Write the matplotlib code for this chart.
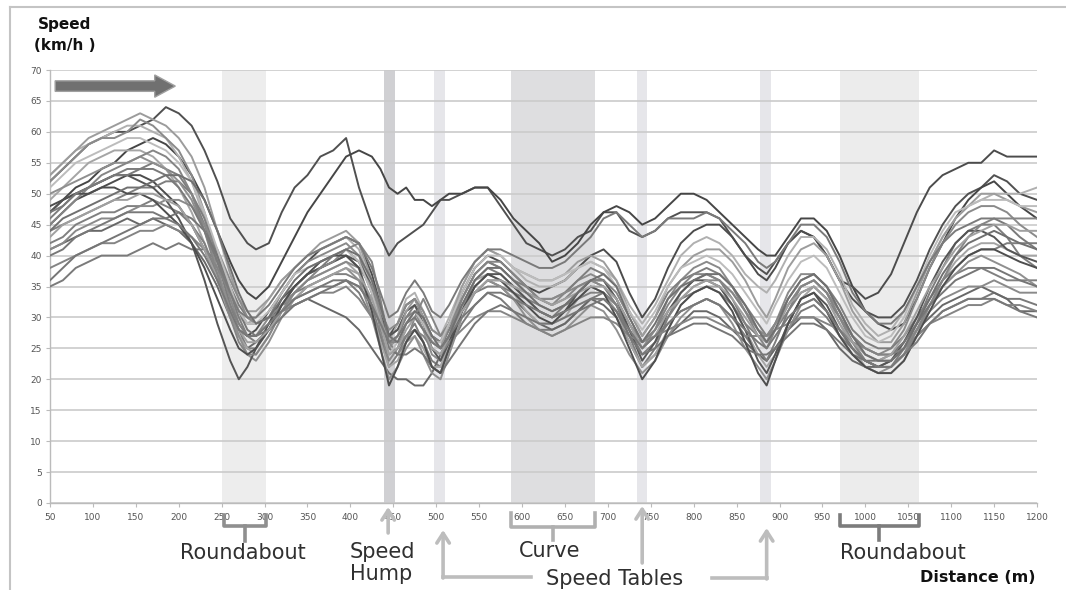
#!/usr/bin/env python3
"""Speed profiles along the test route (roundabouts, hump, tables, curve)."""

import matplotlib
matplotlib.use('Agg')

import matplotlib.pyplot as plt
import matplotlib.transforms as mtransforms
from matplotlib.lines import Line2D
from matplotlib.patches import FancyArrow

# distance along the route (m)
distance_m = [50, 65, 80, 95, 110, 125, 140, 155, 170, 185, 200, 215, 230, 245,
              260, 270, 280, 290, 305, 320, 335, 350, 365, 380, 395, 410, 425,
              435, 445, 455, 465, 475, 485, 495, 505, 515, 530, 545, 560, 575,
              590, 605, 620, 635, 650, 665, 680, 695, 710, 725, 740, 755, 770,
              785, 800, 815, 830, 845, 860, 875, 885, 895, 910, 925, 940, 955,
              970, 985, 1000, 1015, 1030, 1045, 1060, 1075, 1090, 1105, 1120,
              1135, 1150, 1165, 1180, 1200]

# speed of each run (km/h), one value per distance point
run01 = [52, 54, 56, 58, 59, 60, 60, 61, 62, 64, 63, 61, 57, 52, 46, 44, 42, 41, 42,
         47, 51, 53, 56, 57, 59, 51, 45, 43, 40, 42, 43, 44, 45, 47, 49, 49, 50, 51,
         51, 48, 45, 42, 41, 40, 41, 43, 44, 47, 47, 44, 43, 44, 46, 47, 47, 47, 46,
         43, 40, 38, 37, 39, 42, 44, 43, 40, 36, 33, 31, 30, 30, 32, 36, 41, 45, 48,
         50, 51, 53, 52, 50, 49]
run02 = [47, 49, 51, 52, 54, 55, 57, 58, 59, 58, 56, 53, 49, 44, 39, 36, 34, 33, 35,
         39, 43, 47, 50, 53, 56, 57, 56, 54, 51, 50, 51, 49, 49, 48, 49, 50, 50, 51,
         51, 49, 46, 44, 42, 39, 40, 42, 45, 47, 48, 47, 45, 46, 48, 50, 50, 49, 47,
         45, 43, 41, 40, 40, 43, 46, 46, 44, 40, 35, 31, 29, 28, 29, 33, 38, 42, 46,
         49, 51, 52, 50, 48, 46]
run03 = [45, 47, 49, 50, 51, 52, 53, 53, 52, 50, 48, 45, 41, 36, 31, 28, 27, 28, 31,
         34, 37, 39, 41, 42, 43, 42, 37, 32, 27, 29, 32, 33, 30, 27, 26, 29, 34, 38,
         40, 39, 37, 35, 34, 35, 36, 38, 40, 41, 39, 34, 30, 33, 38, 42, 44, 45, 45,
         43, 40, 37, 36, 38, 42, 44, 43, 40, 36, 35, 33, 34, 37, 42, 47, 51, 53, 54,
         55, 55, 57, 56, 56, 56]
run04 = [35, 36, 38, 39, 40, 40, 40, 41, 42, 41, 42, 41, 41, 39, 35, 32, 30, 29, 30,
         32, 33, 34, 35, 35, 36, 34, 30, 27, 24, 25, 27, 28, 26, 23, 22, 25, 29, 32,
         34, 33, 31, 29, 28, 28, 29, 31, 33, 34, 32, 28, 24, 26, 29, 31, 32, 33, 32,
         30, 27, 24, 23, 25, 28, 31, 32, 30, 27, 25, 23, 22, 22, 24, 27, 29, 31, 32,
         33, 33, 34, 33, 33, 32]
run05 = [41, 42, 43, 44, 44, 45, 46, 45, 46, 45, 44, 42, 39, 35, 30, 27, 25, 26, 28,
         31, 32, 33, 32, 31, 30, 28, 25, 23, 21, 20, 20, 19, 19, 21, 24, 27, 31, 34,
         36, 35, 33, 31, 29, 28, 29, 31, 33, 32, 30, 26, 22, 24, 27, 29, 31, 31, 30,
         28, 26, 24, 23, 25, 28, 30, 30, 28, 25, 23, 22, 22, 23, 25, 28, 30, 32, 33,
         34, 35, 34, 33, 31, 31]
run06 = [53, 55, 57, 58, 59, 60, 61, 61, 60, 59, 56, 52, 46, 39, 33, 30, 29, 30, 33,
         36, 38, 40, 41, 42, 43, 41, 35, 30, 26, 29, 33, 34, 31, 28, 27, 30, 35, 39,
         41, 40, 38, 36, 35, 35, 36, 38, 39, 38, 36, 32, 29, 32, 36, 40, 42, 43, 42,
         40, 37, 35, 34, 36, 40, 43, 43, 41, 37, 32, 29, 27, 28, 31, 35, 39, 43, 46,
         48, 49, 50, 50, 50, 51]
run07 = [52, 54, 56, 58, 59, 59, 60, 62, 61, 59, 57, 53, 47, 40, 33, 29, 27, 27, 30,
         34, 37, 39, 40, 41, 42, 40, 34, 28, 23, 25, 29, 31, 28, 24, 23, 27, 33, 37,
         39, 38, 36, 34, 33, 32, 34, 36, 37, 36, 33, 29, 25, 28, 33, 36, 38, 39, 38,
         35, 31, 28, 26, 29, 34, 37, 37, 35, 31, 27, 25, 24, 25, 28, 33, 38, 42, 45,
         47, 48, 48, 47, 45, 43]
run08 = [46, 48, 50, 51, 52, 53, 54, 54, 55, 54, 53, 50, 45, 39, 32, 28, 25, 25, 28,
         32, 35, 37, 38, 39, 40, 38, 32, 27, 22, 24, 27, 29, 26, 22, 21, 25, 31, 36,
         38, 37, 35, 33, 31, 30, 32, 34, 36, 35, 32, 27, 22, 25, 30, 34, 36, 37, 36,
         33, 29, 25, 23, 26, 31, 35, 36, 34, 30, 26, 23, 22, 22, 25, 29, 34, 38, 42,
         44, 45, 45, 43, 40, 38]
run09 = [49, 51, 53, 55, 56, 57, 57, 57, 56, 54, 51, 47, 42, 36, 30, 27, 25, 24, 27,
         31, 34, 36, 37, 38, 39, 37, 31, 26, 22, 23, 26, 27, 25, 22, 22, 26, 32, 36,
         37, 36, 34, 31, 29, 29, 30, 33, 35, 34, 31, 26, 22, 24, 28, 32, 34, 35, 35,
         32, 28, 24, 22, 24, 29, 33, 35, 33, 29, 25, 22, 21, 21, 23, 27, 32, 36, 39,
         41, 42, 42, 41, 40, 40]
run10 = [44, 45, 46, 47, 48, 49, 50, 51, 51, 52, 52, 50, 46, 40, 34, 30, 27, 26, 28,
         32, 35, 37, 38, 40, 41, 39, 34, 29, 25, 27, 30, 32, 30, 26, 25, 28, 33, 37,
         39, 38, 36, 35, 33, 33, 34, 36, 38, 37, 35, 31, 27, 30, 34, 36, 37, 38, 37,
         35, 32, 29, 27, 29, 33, 36, 37, 35, 32, 28, 26, 25, 25, 27, 30, 33, 36, 38,
         40, 41, 41, 42, 42, 42]
run11 = [42, 43, 45, 46, 47, 47, 48, 48, 49, 48, 47, 45, 42, 37, 32, 29, 27, 27, 29,
         32, 34, 35, 36, 37, 37, 36, 33, 30, 27, 28, 30, 31, 29, 27, 26, 28, 31, 34,
         35, 35, 34, 33, 32, 31, 32, 33, 34, 34, 32, 28, 25, 27, 30, 33, 34, 35, 34,
         32, 29, 27, 26, 28, 31, 34, 35, 33, 30, 27, 25, 24, 24, 26, 29, 32, 35, 37,
         38, 38, 37, 36, 36, 36]
run12 = [50, 51, 52, 53, 54, 55, 55, 56, 55, 54, 52, 49, 44, 38, 31, 27, 24, 23, 26,
         30, 33, 35, 36, 37, 38, 36, 30, 25, 20, 22, 25, 27, 24, 21, 20, 24, 30, 34,
         36, 35, 33, 30, 28, 27, 28, 30, 32, 31, 28, 24, 21, 23, 27, 30, 32, 33, 32,
         29, 25, 22, 20, 23, 28, 32, 33, 31, 27, 24, 22, 21, 22, 24, 28, 32, 35, 37,
         39, 40, 39, 38, 37, 35]
run13 = [47, 49, 50, 51, 52, 53, 53, 52, 51, 49, 46, 42, 36, 29, 23, 20, 22, 25, 29,
         33, 35, 37, 38, 39, 40, 39, 35, 31, 27, 28, 31, 32, 29, 25, 23, 26, 31, 35,
         37, 37, 35, 33, 31, 30, 31, 34, 36, 36, 33, 28, 23, 26, 31, 34, 36, 36, 35,
         32, 28, 23, 21, 24, 29, 33, 34, 32, 28, 25, 23, 22, 23, 26, 30, 35, 39, 42,
         44, 44, 43, 41, 40, 39]
run14 = [53, 55, 57, 59, 60, 61, 62, 63, 62, 61, 59, 56, 51, 44, 37, 33, 31, 31, 33,
         36, 38, 40, 42, 43, 44, 42, 36, 30, 25, 27, 31, 33, 30, 26, 25, 29, 35, 39,
         41, 40, 38, 37, 36, 36, 37, 39, 40, 39, 36, 31, 27, 30, 35, 38, 40, 41, 41,
         39, 36, 32, 30, 33, 38, 41, 42, 40, 36, 31, 28, 26, 26, 29, 34, 39, 43, 46,
         48, 50, 50, 49, 48, 47]
run15 = [41, 42, 44, 45, 46, 46, 47, 48, 48, 49, 49, 48, 45, 41, 36, 33, 30, 29, 30,
         32, 34, 36, 37, 38, 39, 38, 35, 31, 28, 29, 32, 33, 31, 28, 27, 29, 32, 34,
         36, 36, 35, 34, 33, 33, 34, 35, 36, 35, 33, 29, 26, 28, 31, 33, 35, 36, 36,
         34, 31, 28, 27, 29, 32, 35, 36, 34, 31, 27, 24, 23, 23, 25, 28, 31, 33, 34,
         35, 35, 36, 35, 34, 34]
run16 = [38, 39, 40, 41, 42, 42, 43, 44, 44, 45, 44, 43, 41, 38, 34, 31, 29, 29, 30,
         31, 32, 33, 34, 34, 35, 33, 30, 28, 26, 26, 27, 28, 27, 25, 24, 26, 28, 30,
         31, 31, 30, 29, 28, 27, 28, 29, 30, 30, 29, 27, 26, 27, 28, 29, 30, 30, 29,
         28, 27, 27, 27, 28, 29, 30, 30, 29, 28, 26, 25, 24, 24, 25, 27, 29, 30, 31,
         32, 32, 33, 32, 32, 31]
run17 = [45, 47, 49, 51, 53, 54, 55, 56, 57, 56, 54, 50, 44, 37, 30, 26, 24, 24, 27,
         31, 34, 36, 38, 39, 41, 42, 39, 33, 26, 24, 26, 30, 33, 30, 27, 29, 33, 37,
         39, 39, 37, 35, 33, 32, 33, 35, 36, 36, 34, 30, 26, 28, 32, 35, 37, 37, 36,
         34, 31, 27, 25, 28, 32, 35, 36, 34, 30, 26, 23, 22, 22, 24, 28, 32, 36, 40,
         43, 45, 46, 46, 46, 46]
run18 = [36, 38, 40, 41, 42, 43, 44, 45, 46, 46, 47, 46, 44, 40, 35, 31, 28, 27, 28,
         30, 32, 33, 34, 35, 36, 35, 32, 29, 25, 24, 24, 25, 24, 22, 21, 23, 26, 29,
         31, 32, 31, 30, 29, 29, 30, 31, 32, 33, 31, 27, 24, 25, 27, 28, 29, 29, 28,
         27, 25, 24, 24, 25, 27, 29, 29, 28, 26, 24, 23, 23, 24, 26, 29, 32, 34, 36,
         37, 38, 38, 37, 36, 35]
run19 = [51, 53, 55, 56, 57, 58, 59, 59, 58, 57, 55, 52, 47, 41, 35, 31, 29, 29, 31,
         34, 37, 38, 39, 40, 41, 39, 34, 29, 24, 26, 29, 31, 29, 26, 26, 29, 34, 38,
         40, 40, 38, 37, 36, 36, 37, 38, 39, 38, 35, 31, 28, 31, 35, 38, 39, 40, 39,
         37, 34, 31, 29, 32, 36, 39, 40, 38, 34, 30, 27, 26, 27, 30, 35, 40, 44, 47,
         48, 49, 49, 49, 48, 48]
run20 = [48, 49, 50, 50, 51, 51, 50, 50, 49, 47, 45, 42, 38, 33, 28, 25, 24, 25, 28,
         32, 35, 37, 39, 40, 40, 38, 31, 25, 19, 22, 26, 28, 26, 22, 21, 25, 31, 35,
         37, 36, 34, 32, 30, 29, 31, 33, 35, 34, 30, 25, 20, 23, 28, 32, 34, 35, 34,
         31, 26, 21, 19, 23, 29, 33, 34, 31, 27, 24, 22, 21, 21, 23, 27, 31, 35, 38,
         40, 41, 41, 40, 39, 38]
run21 = [47, 48, 50, 51, 52, 53, 53, 54, 54, 53, 51, 48, 44, 39, 34, 31, 30, 30, 32,
         35, 38, 40, 41, 42, 43, 42, 38, 34, 30, 31, 34, 36, 34, 31, 30, 32, 36, 39,
         41, 41, 40, 39, 38, 38, 39, 41, 43, 46, 47, 45, 43, 44, 46, 46, 46, 47, 46,
         44, 42, 39, 38, 39, 42, 45, 45, 43, 39, 34, 31, 29, 29, 31, 35, 39, 42, 44,
         45, 46, 46, 45, 43, 41]
run22 = [43, 45, 46, 47, 48, 49, 49, 50, 50, 49, 48, 45, 41, 36, 31, 28, 26, 26, 28,
         31, 33, 35, 36, 37, 38, 37, 33, 29, 24, 25, 28, 30, 28, 25, 24, 27, 31, 34,
         36, 36, 35, 34, 33, 32, 33, 34, 35, 35, 33, 29, 25, 27, 31, 33, 35, 36, 35,
         33, 30, 27, 26, 28, 32, 34, 35, 33, 29, 26, 24, 23, 24, 27, 31, 35, 38, 41,
         43, 44, 45, 45, 44, 44]
run23 = [44, 46, 47, 48, 49, 50, 51, 51, 52, 53, 53, 52, 49, 44, 38, 34, 31, 29, 30,
         33, 36, 38, 39, 40, 41, 40, 36, 32, 27, 26, 29, 31, 30, 27, 25, 27, 32, 36,
         38, 38, 36, 34, 32, 31, 32, 34, 36, 37, 35, 30, 26, 29, 33, 35, 36, 37, 37,
         35, 32, 28, 26, 28, 33, 36, 37, 35, 31, 27, 24, 23, 23, 25, 29, 33, 37, 40,
         42, 43, 44, 43, 42, 41]
run24 = [40, 41, 43, 44, 45, 46, 47, 47, 47, 46, 45, 43, 40, 36, 31, 28, 27, 27, 29,
         31, 33, 34, 35, 36, 36, 35, 32, 29, 26, 27, 29, 30, 28, 26, 25, 27, 30, 32,
         34, 34, 33, 32, 31, 30, 31, 32, 33, 33, 31, 28, 25, 27, 29, 31, 32, 33, 32,
         30, 28, 26, 25, 27, 30, 32, 33, 31, 28, 25, 23, 22, 22, 24, 26, 29, 31, 32,
         33, 33, 33, 32, 31, 30]

runs = [run01, run02, run03, run04, run05, run06, run07, run08, run09, run10,
        run11, run12, run13, run14, run15, run16, run17, run18, run19, run20,
        run21, run22, run23, run24]

# grey level for each run
run_greys = ['#505050', '#464646', '#4c4c4c', '#7a7a7a', '#686868', '#b0b0b0',
             '#8a8a8a', '#7d7d7d', '#a5a5a5', '#7e7e7e', '#808080', '#8f8f8f',
             '#555555', '#9c9c9c', '#8a8a8a', '#848484', '#858585', '#767676',
             '#bcbcbc', '#4e4e4e', '#7a7a7a', '#a0a0a0', '#707070', '#787878']

# road features (start, end in m)
roundabout_1 = (250, 302)
speed_hump = (439, 452)
speed_tables = [(497, 510), (734, 746), (877, 890)]
curve = (587, 685)
roundabout_2 = (971, 1063)

x_ticks = list(range(50, 1201, 50))
y_ticks = list(range(0, 71, 5))

W, H = 1066, 590


def fy(py):
    # pixel row -> figure fraction
    return 1 - py / H


def main():
    fig = plt.figure(figsize=(W / 100, H / 100), dpi=100)
    ax = fig.add_axes([50 / W, 1 - 503 / H, 987 / W, 433 / H])

    # shaded zones
    ax.axvspan(*roundabout_1, color='#ededed', zorder=0.2, lw=0)
    ax.axvspan(*speed_hump, color='#d0d0d3', zorder=0.2, lw=0)
    for t in speed_tables:
        ax.axvspan(*t, color='#e6e6ea', zorder=0.2, lw=0)
    ax.axvspan(*curve, color='#dedee0', zorder=0.2, lw=0)
    ax.axvspan(*roundabout_2, color='#ececec', zorder=0.2, lw=0)

    for speeds, grey in zip(runs, run_greys):
        ax.plot(distance_m, speeds, color=grey, lw=1.4, zorder=3)

    ax.set_xlim(50, 1200)
    ax.set_ylim(0, 70)
    ax.set_xticks(x_ticks)
    ax.set_yticks(y_ticks)
    ax.set_axisbelow(True)
    ax.yaxis.grid(True, color='#cbcbcb', lw=1.2)
    for side in ('top', 'right'):
        ax.spines[side].set_visible(False)
    for side in ('left', 'bottom'):
        ax.spines[side].set_color('#bbbbbb')
        ax.spines[side].set_linewidth(1.0)
    ax.tick_params(axis='both', labelsize=6.5, labelcolor='#555555',
                   color='#bbbbbb', length=3, direction='out')
    ax.tick_params(axis='x', pad=4)
    ax.tick_params(axis='y', pad=3)

    # direction of travel
    ax.add_patch(FancyArrow(56, 67.4, 140, 0, width=1.7, head_width=3.6,
                            head_length=24, length_includes_head=True,
                            fc='#707070', ec='#a0a0a0', lw=1, zorder=4,
                            clip_on=False))

    trans = mtransforms.blended_transform_factory(ax.transData, fig.transFigure)

    def bracket(x0, x1, xc, top, mid, bottom, colour):
        fig.add_artist(Line2D([x0, x0, x1, x1], [fy(top), fy(mid), fy(mid), fy(top)],
                              transform=trans, color=colour, lw=2.6))
        fig.add_artist(Line2D([xc, xc], [fy(mid), fy(bottom)],
                              transform=trans, color=colour, lw=2.6))

    def up_arrow(x, tip, tail):
        ax.annotate('', xy=(x, fy(tip)), xytext=(x, fy(tail)),
                    xycoords=trans, textcoords=trans, annotation_clip=False,
                    arrowprops=dict(arrowstyle='->,head_length=0.7,head_width=0.45',
                                    color='#bdbdbd', lw=2.6, shrinkA=0, shrinkB=0))

    bracket(roundabout_1[0] + 3, roundabout_1[1], 277, 515, 526, 541, '#8f8f8f')
    bracket(curve[0], curve[1], 636, 513, 527, 540, '#b0b0b0')
    bracket(roundabout_2[0], roundabout_2[1], 1016, 515, 526, 540, '#7c7c7c')

    label = dict(transform=trans, fontsize=15, color='#303030',
                 family='DejaVu Sans', va='center')
    fig.text(275, fy(553), 'Roundabout', ha='center', **label)
    fig.text(399, fy(552), 'Speed', ha='left', **label)
    fig.text(399, fy(574), 'Hump', ha='left', **label)
    fig.text(632, fy(551), 'Curve', ha='center', **label)
    fig.text(1044, fy(553), 'Roundabout', ha='center', **label)
    fig.text(628, fy(579), 'Speed Tables', ha='left', **label)

    # speed hump arrow
    up_arrow(444, 507, 533)
    # speed table arrows
    fig.add_artist(Line2D([611, 508], [fy(577), fy(577)], transform=trans,
                          color='#bdbdbd', lw=2.6))
    up_arrow(508, 530, 578)
    up_arrow(740, 506, 563)
    fig.add_artist(Line2D([821, 885], [fy(578), fy(578)], transform=trans,
                          color='#bdbdbd', lw=2.6))
    up_arrow(885, 528, 579)

    # axis titles
    fig.text(1036 / W, fy(578), 'Distance (m)', ha='right', va='center',
             fontsize=11.5, fontweight='bold', color='#111111')
    fig.text(38 / W, fy(25), 'Speed', ha='left', va='center',
             fontsize=11, fontweight='bold', color='#111111')
    fig.text(34 / W, fy(45), '(km/h )', ha='left', va='center',
             fontsize=11, fontweight='bold', color='#111111')

    # outer frame (top and left)
    fig.add_artist(Line2D([10 / W, 1], [fy(7), fy(7)], transform=fig.transFigure,
                          color='#c4c4c4', lw=1.5))
    fig.add_artist(Line2D([10 / W, 10 / W], [0, fy(7)], transform=fig.transFigure,
                          color='#c4c4c4', lw=1.5))

    fig.savefig('out.png', dpi=100)


if __name__ == "__main__":
    main()
